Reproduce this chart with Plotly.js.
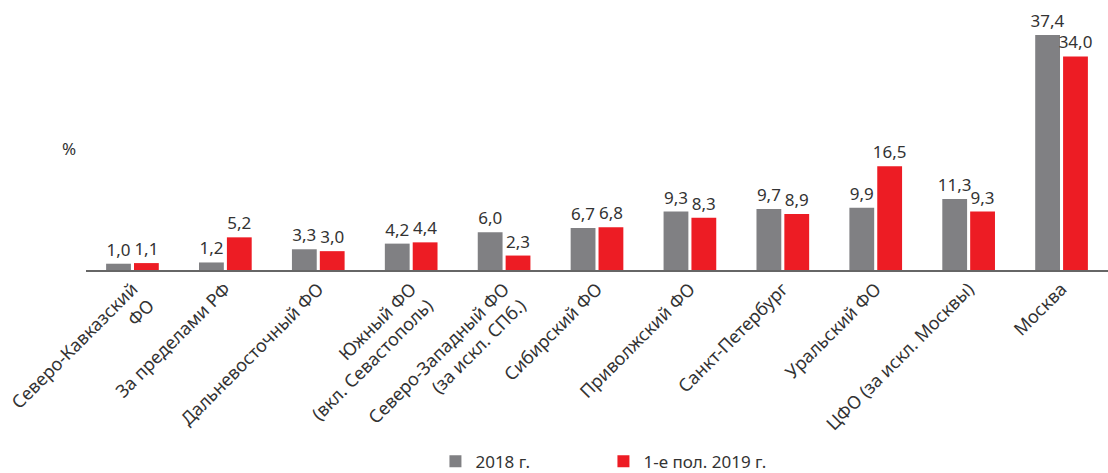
<!DOCTYPE html>
<html><head><meta charset="utf-8">
<script src="https://cdn.plot.ly/plotly-3.0.1.min.js"></script>
<style>html,body{margin:0;padding:0;background:#fff;}#chart{width:1108px;height:473px;}</style>
</head><body><div id="chart"></div>
<script>
const categories = [
  "Северо-Кавказский<br>ФО",
  "За пределами РФ",
  "Дальневосточный ФО",
  "Южный ФО<br>(вкл. Севастополь)",
  "Северо-Западный ФО<br>(за искл. СПб.)",
  "Сибирский ФО",
  "Приволжский ФО",
  "Санкт-Петербург",
  "Уральский ФО",
  "ЦФО (за искл. Москвы)",
  "Москва"
];
const values2018 = [1.0, 1.2, 3.3, 4.2, 6.0, 6.7, 9.3, 9.7, 9.9, 11.3, 37.4];
const values2019 = [1.1, 5.2, 3.0, 4.4, 2.3, 6.8, 8.3, 8.9, 16.5, 9.3, 34.0];
const seriesNames = ["2018 г.", "1-е пол. 2019 г."];
const fmt = v => v.toFixed(1).replace('.', ',');
const FONT = "Noto Sans, Open Sans, sans-serif";
const TXT = "#333333";
const traces = [
  {type:'bar', name:seriesNames[0], x:categories, y:values2018,
   marker:{color:'#808083'}, text:values2018.map(fmt), textposition:'outside', constraintext:'none',
   textfont:{family:FONT,size:17,color:TXT}, cliponaxis:false, hoverinfo:'none'},
  {type:'bar', name:seriesNames[1], x:categories, y:values2019,
   marker:{color:'#ed1c24'}, text:values2019.map(fmt), textposition:'outside', constraintext:'none',
   textfont:{family:FONT,size:17,color:TXT}, cliponaxis:false, hoverinfo:'none'}
];
const layout = {
  width:1108, height:473,
  margin:{l:86, r:0, t:20, b:203},
  paper_bgcolor:'#fff', plot_bgcolor:'#fff',
  barmode:'group', bargap:0.4, bargroupgap:0.11,
  font:{family:FONT, size:17, color:TXT},
  xaxis:{type:'category', range:[-0.5,10.5], tickangle:-45, showline:true, linecolor:'#666', linewidth:1.5,
    ticks:'', showgrid:false, automargin:false, tickfont:{family:FONT,size:18,color:TXT}, fixedrange:true},
  yaxis:{range:[0,39.8], visible:false, showgrid:false, zeroline:false, fixedrange:true},
  showlegend:true,
  legend:{orientation:'h', xref:'container', yref:'container', x:0.393, xanchor:'left', y:0.062, yanchor:'top',
    font:{family:FONT,size:17,color:TXT}, entrywidth:123, entrywidthmode:'pixels', traceorder:'normal'},
  annotations:[{text:'%', xref:'paper', yref:'paper', x:-0.017, y:0.488, xanchor:'center', yanchor:'middle',
    showarrow:false, font:{family:FONT,size:17,color:TXT}}]
};
Plotly.newPlot('chart', traces, layout, {displayModeBar:false, staticPlot:true});
</script></body></html>
